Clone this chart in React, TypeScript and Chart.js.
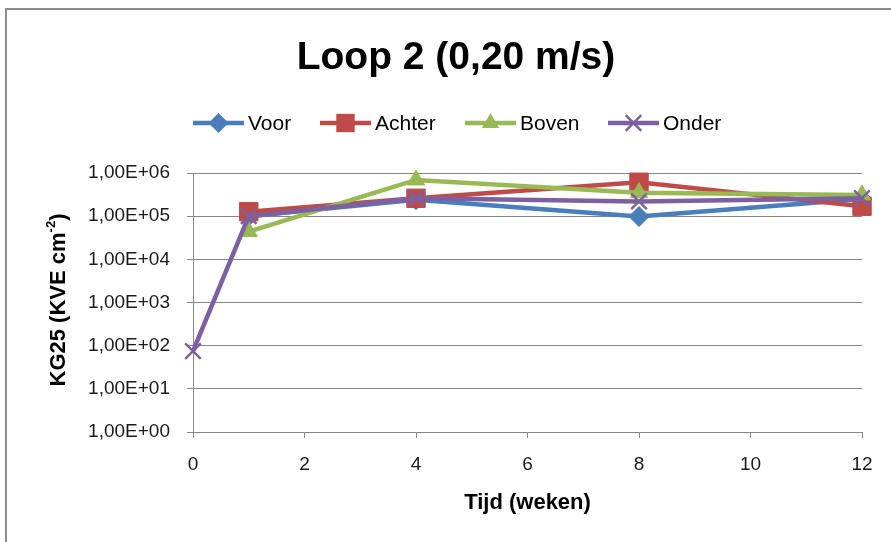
import { useEffect, useRef } from "react";
import { Chart, registerables } from "chart.js";

Chart.register(...registerables);

// Sampling moments (weeks) and colony counts per sampling position
const weeks = [0, 1, 4, 8, 12];
const voor = [null, 1.0e5, 2.4e5, 9.8e4, 2.5e5];
const achter = [null, 1.27e5, 2.6e5, 6.1e5, 1.7e5];
const boven = [null, 4.4e4, 6.9e5, 3.5e5, 3.1e5];
const onder = [75, 1.0e5, 2.6e5, 2.2e5, 2.6e5];

const seriesNames = ["Voor", "Achter", "Boven", "Onder"];
const seriesColors = ["#4A7EBB", "#BE4B48", "#98B954", "#7D60A0"];
const seriesMarkers = ["rectRot", "rect", "triangle", "crossRot"];
const seriesRadius = [10, 13, 10, 11];

const yTicks = [1, 10, 100, 1e3, 1e4, 1e5, 1e6];
const titleText = "Loop 2 (0,20 m/s)";
const xTitleText = "Tijd (weken)";
const yTitleMain = "KG25 (KVE cm";
const yTitleSup = "-2";
const yTitleEnd = ")";

const FONT = "'Liberation Sans', Arial, sans-serif";

function formatSci(v: number): string {
  const exp = Math.round(Math.log10(v));
  return "1,00E+" + String(exp).padStart(2, "0");
}

// Marker shapes, same geometry as Chart.js point styles
function drawMarker(
  ctx: CanvasRenderingContext2D,
  style: string,
  x: number,
  y: number,
  r: number,
  color: string
) {
  ctx.save();
  ctx.fillStyle = color;
  ctx.strokeStyle = color;
  ctx.beginPath();
  if (style === "rectRot") {
    ctx.moveTo(x - r, y);
    ctx.lineTo(x, y - r);
    ctx.lineTo(x + r, y);
    ctx.lineTo(x, y + r);
    ctx.closePath();
    ctx.fill();
  } else if (style === "rect") {
    const s = Math.SQRT1_2 * r;
    ctx.rect(x - s, y - s, 2 * s, 2 * s);
    ctx.fill();
  } else if (style === "triangle") {
    const a = (2 * Math.PI) / 3;
    ctx.moveTo(x, y - r);
    ctx.lineTo(x + Math.sin(a) * r, y - Math.cos(a) * r);
    ctx.lineTo(x + Math.sin(2 * a) * r, y - Math.cos(2 * a) * r);
    ctx.closePath();
    ctx.fill();
  } else if (style === "crossRot") {
    const o = Math.SQRT1_2 * r;
    ctx.lineWidth = 2.5;
    ctx.moveTo(x - o, y - o);
    ctx.lineTo(x + o, y + o);
    ctx.moveTo(x + o, y - o);
    ctx.lineTo(x - o, y + o);
    ctx.stroke();
  }
  ctx.restore();
}

const decorPlugin = {
  id: "decor",
  beforeDraw(chart: any) {
    const ctx = chart.ctx as CanvasRenderingContext2D;
    ctx.save();
    ctx.fillStyle = "#ffffff";
    ctx.fillRect(0, 0, chart.width, chart.height);
    // outer frame of the chart object
    ctx.strokeStyle = "#8c8c8c";
    ctx.lineWidth = 2;
    ctx.strokeRect(6, 9, chart.width + 20, chart.height + 20);
    ctx.restore();
  },
  afterDraw(chart: any) {
    const ctx = chart.ctx as CanvasRenderingContext2D;
    const area = chart.chartArea;
    ctx.save();
    ctx.fillStyle = "#000000";

    // Title
    ctx.font = `bold 39px ${FONT}`;
    ctx.textAlign = "center";
    ctx.textBaseline = "middle";
    ctx.fillText(titleText, 456, 58);

    // Legend: line segment with marker, then label
    const legendX = [193, 320, 465, 608];
    const legendY = 123;
    ctx.font = `21px ${FONT}`;
    ctx.textAlign = "left";
    seriesNames.forEach((name, i) => {
      const x0 = legendX[i];
      ctx.strokeStyle = seriesColors[i];
      ctx.lineWidth = 4.5;
      ctx.beginPath();
      ctx.moveTo(x0, legendY);
      ctx.lineTo(x0 + 51, legendY);
      ctx.stroke();
      drawMarker(ctx, seriesMarkers[i], x0 + 25.5, legendY, seriesRadius[i], seriesColors[i]);
      ctx.fillStyle = "#000000";
      ctx.fillText(name, x0 + 55, legendY + 1);
    });

    // X axis title
    ctx.font = `bold 22px ${FONT}`;
    ctx.textAlign = "center";
    ctx.fillText(xTitleText, (area.left + area.right) / 2, 503);

    // Y axis title with superscript
    ctx.translate(57, 300);
    ctx.rotate(-Math.PI / 2);
    const mainFont = `bold 22px ${FONT}`;
    const supFont = `bold 13px ${FONT}`;
    ctx.font = mainFont;
    const w1 = ctx.measureText(yTitleMain).width;
    const w3 = ctx.measureText(yTitleEnd).width;
    ctx.font = supFont;
    const w2 = ctx.measureText(yTitleSup).width;
    let cx = -(w1 + w2 + w3) / 2;
    ctx.textAlign = "left";
    ctx.textBaseline = "alphabetic";
    ctx.font = mainFont;
    ctx.fillText(yTitleMain, cx, 8);
    cx += w1;
    ctx.font = supFont;
    ctx.fillText(yTitleSup, cx, -2);
    cx += w2;
    ctx.font = mainFont;
    ctx.fillText(yTitleEnd, cx, 8);
    ctx.restore();
  },
};

export default function App() {
  const canvasRef = useRef<HTMLCanvasElement | null>(null);

  useEffect(() => {
    const canvas = canvasRef.current;
    if (!canvas) return;
    const series = [voor, achter, boven, onder];
    const datasets = series.map((values, i) => ({
      label: seriesNames[i],
      data: weeks
        .map((w, j) => ({ x: w, y: values[j] }))
        .filter((p) => p.y !== null),
      borderColor: seriesColors[i],
      backgroundColor: seriesColors[i],
      borderWidth: 4.5,
      pointStyle: seriesMarkers[i],
      pointRadius: seriesRadius[i],
      pointBackgroundColor: seriesColors[i],
      pointBorderColor: seriesColors[i],
      pointBorderWidth: seriesMarkers[i] === "crossRot" ? 2.5 : 1,
      tension: 0,
      clip: false,
      order: 4 - i,
    }));

    const chart = new Chart(canvas, {
      type: "line",
      data: { datasets },
      plugins: [decorPlugin],
      options: {
        animation: false,
        responsive: false,
        devicePixelRatio: 1,
        layout: { padding: { left: 0, right: 29, top: 173, bottom: 0 } },
        plugins: {
          legend: { display: false },
          title: { display: false },
          tooltip: { enabled: false },
        },
        scales: {
          x: {
            type: "linear",
            min: 0,
            max: 12,
            ticks: {
              stepSize: 2,
              padding: 15,
              color: "#1a1a1a",
              font: { family: FONT, size: 19 },
            },
            grid: {
              drawOnChartArea: false,
              drawTicks: true,
              tickLength: 6,
              color: "#868686",
              tickColor: "#868686",
            },
            border: { display: true, color: "#868686", width: 1 },
            afterFit: (scale: any) => {
              scale.height = 110;
            },
          },
          y: {
            type: "logarithmic",
            min: 1,
            max: 1e6,
            afterBuildTicks: (scale: any) => {
              scale.ticks = yTicks.map((v) => ({ value: v }));
            },
            ticks: {
              padding: 17,
              color: "#1a1a1a",
              font: { family: FONT, size: 19 },
              callback: (v: any) => formatSci(Number(v)),
            },
            grid: {
              color: "#868686",
              tickColor: "#868686",
              tickLength: 6,
              lineWidth: 1,
            },
            border: { display: true, color: "#868686", width: 1 },
            afterFit: (scale: any) => {
              scale.width = 193;
            },
          },
        },
      },
    });
    return () => chart.destroy();
  }, []);

  return (
    <div style={{ position: "fixed", left: 0, top: 0, width: 891, height: 542, background: "#fff" }}>
      <canvas ref={canvasRef} width={891} height={542} style={{ display: "block" }} />
    </div>
  );
}
